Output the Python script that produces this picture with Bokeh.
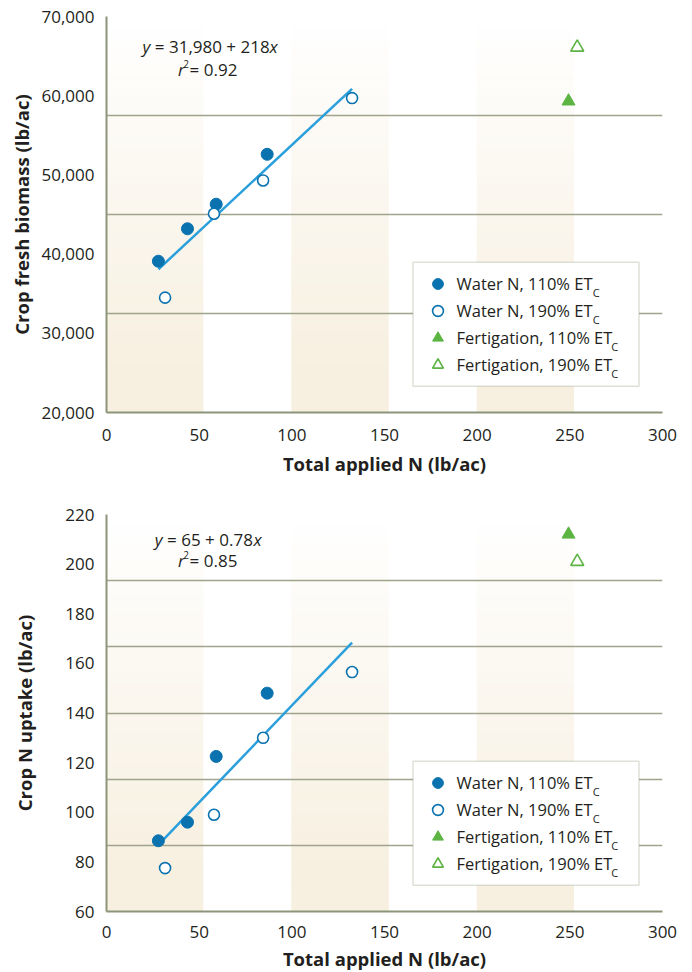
import numpy as np
from bokeh.plotting import figure
from bokeh.models import (Range1d, FixedTicker, Label, Legend, LegendItem,
                          NumeralTickFormatter, BoxAnnotation)
from bokeh.layouts import column
from bokeh.embed import file_html
from bokeh.resources import INLINE

# ---------------- data ----------------
applied_n_water_110 = [28.0, 43.7, 59.2, 86.7]
applied_n_water_190 = [31.6, 58.0, 84.5, 132.5]
applied_n_fert_110 = [249.3]
applied_n_fert_190 = [254.0]

biomass_water_110 = [39100, 43200, 46300, 52600]
biomass_water_190 = [34500, 45100, 49300, 59700]
biomass_fert_110 = [59300]
biomass_fert_190 = [66100]

uptake_water_110 = [88.5, 96.0, 122.5, 148.0]
uptake_water_190 = [77.5, 99.0, 130.0, 156.5]
uptake_fert_110 = [212.0]
uptake_fert_190 = [201.0]

biomass_fit = (31980, 218)
uptake_fit = (65, 0.78)
biomass_eq = ("= 31,980 + 218", "= 0.92")
uptake_eq = ("= 65 + 0.78", "= 0.85")

x_ticks = [0, 50, 100, 150, 200, 250, 300]
biomass_ticks = [20000, 30000, 40000, 50000, 60000, 70000]
uptake_ticks = [60, 80, 100, 120, 140, 160, 180, 200, 220]

legend_labels = ["Water N, 110% ET", "Water N, 190% ET",
                 "Fertigation, 110% ET", "Fertigation, 190% ET"]
legend_sub = "C"
band_starts = [0, 100, 200]
band_width = 52

# ---------------- style ----------------
FONT = "Open Sans"
TEXT = "#231f20"
BLUE = "#0a72ae"
GREEN = "#5cb443"
FIT = "#2a9fdb"
GRID = "#9ea58c"
AXIS = "#8c957a"
BEIGE = (247, 239, 223)


def add_text(p, x, y, text, size, style="normal"):
    p.add_layout(Label(x=x, y=y, x_units="screen", y_units="screen", text=text,
                       text_font=FONT, text_font_size=f"{size}px",
                       text_font_style=style, text_color=TEXT,
                       text_align="left", text_baseline="middle",
                       level="overlay"))


def make_chart(y_range, y_ticks, n_grid, y_w110, y_w190, y_f110, y_f190, fit,
               eq, y_label, frame_h, border_top, border_bottom, eq_pos,
               ylab_standoff, xtick_standoff, xlab_standoff, fmt=None):
    p = figure(frame_width=556, frame_height=frame_h, output_backend="svg",
               toolbar_location=None, x_range=Range1d(0, 300),
               y_range=Range1d(*y_range), min_border_left=106,
               min_border_right=21, min_border_top=border_top,
               min_border_bottom=border_bottom)
    p.outline_line_color = None
    p.background_fill_color = "white"
    p.border_fill_color = "white"

    # gradient bands
    y0, y1 = y_range
    n = 40
    edges = np.linspace(y0, y1, n + 1)
    for b in band_starts:
        lefts, rights, bots, tops, cols = [], [], [], [], []
        for i in range(n):
            f = (i + 0.5) / n
            inten = max(0.0, min(1.0, (1 - f) * 1.08))
            c = tuple(int(round(255 - (255 - ch) * inten)) for ch in BEIGE)
            lefts.append(b); rights.append(b + band_width)
            bots.append(edges[i]); tops.append(edges[i + 1])
            cols.append("#%02x%02x%02x" % c)
        p.quad(left=lefts, right=rights, bottom=bots, top=tops, fill_color=cols,
               line_color=cols, line_width=1, level="image")

    # grid
    grid_vals = list(np.linspace(y0, y1, n_grid + 1)[1:])
    p.xgrid.visible = False
    p.ygrid.ticker = FixedTicker(ticks=grid_vals)
    p.ygrid.grid_line_color = GRID
    p.ygrid.grid_line_width = 1.5

    # axes
    for ax in (p.xaxis[0], p.yaxis[0]):
        ax.axis_line_color = AXIS
        ax.axis_line_width = 2
        ax.major_tick_line_color = None
        ax.minor_tick_line_color = None
        ax.major_tick_out = 0
        ax.major_tick_in = 0
        ax.major_label_text_font = FONT
        ax.major_label_text_font_size = "17px"
        ax.major_label_text_color = TEXT
        ax.axis_label_text_font = FONT
        ax.axis_label_text_font_size = "18.5px"
        ax.axis_label_text_font_style = "bold"
        ax.axis_label_text_color = TEXT
    p.xaxis.ticker = FixedTicker(ticks=x_ticks)
    p.yaxis.ticker = FixedTicker(ticks=y_ticks)
    if fmt is not None:
        p.yaxis.formatter = fmt
    p.xaxis.axis_label = "Total applied N (lb/ac)"
    p.yaxis.axis_label = y_label
    p.yaxis.major_label_standoff = 12
    p.yaxis.axis_label_standoff = ylab_standoff
    p.xaxis.major_label_standoff = xtick_standoff
    p.xaxis.axis_label_standoff = xlab_standoff

    # legend box (drawn under the legend's keys and texts)
    leg_x, leg_y = 306.5, 26.3
    pad, gw, gh, stand, lw = 8, 33, 27, 3, 174
    leg_w = 2 * pad + gw + stand + lw
    leg_h = 2 * pad + 4 * gh
    box = BoxAnnotation(left=leg_x, right=leg_x + leg_w, bottom=leg_y,
                        top=leg_y + leg_h, left_units="screen",
                        right_units="screen", bottom_units="screen",
                        top_units="screen", fill_color="white", fill_alpha=1.0,
                        line_color="#8e9b7d", line_width=1.5, level="underlay")
    p.add_layout(box)

    # regression line
    xs_all = applied_n_water_110 + applied_n_water_190
    fx = np.array([min(xs_all), max(xs_all)])
    p.line(fx, fit[0] + fit[1] * fx, line_color=FIT, line_width=2.5)

    # points
    r1 = p.scatter(applied_n_water_110, y_w110, marker="circle", size=12,
                   fill_color=BLUE, line_color=BLUE, line_width=1)
    r2 = p.scatter(applied_n_water_190, y_w190, marker="circle", size=11,
                   fill_color="white", line_color=BLUE, line_width=1.6)
    r3 = p.scatter(applied_n_fert_110, y_f110, marker="triangle", size=13,
                   fill_color=GREEN, line_color=GREEN, line_width=1)
    r4 = p.scatter(applied_n_fert_190, y_f190, marker="triangle", size=13,
                   fill_color="white", line_color=GREEN, line_width=1.6)

    legend = Legend(items=[LegendItem(label=t, renderers=[r])
                           for t, r in zip(legend_labels, [r1, r2, r3, r4])],
                    location=(leg_x, leg_y))
    legend.label_text_font = FONT
    legend.label_text_font_size = "16.5px"
    legend.label_text_color = TEXT
    legend.border_line_color = "white"
    legend.border_line_alpha = 0.0
    legend.background_fill_alpha = 0.0
    legend.padding = pad
    legend.spacing = 0
    legend.glyph_height = gh
    legend.glyph_width = gw
    legend.label_height = gh
    legend.label_standoff = stand
    legend.label_width = lw
    legend.margin = 0
    p.add_layout(legend)

    # subscripts in legend
    leg_top = leg_y + leg_h
    widths = [135.3, 135.3, 153.8, 153.8]
    for i, w in enumerate(widths):
        cy = leg_top - pad - gh / 2 - gh * i
        add_text(p, leg_x + pad + gw + stand + w + 0.5, cy - 8.5, legend_sub, 11)

    # equation
    yx, xx, ly1, rx, ly2 = eq_pos
    add_text(p, yx, frame_h - ly1, "y", 17, "italic")
    add_text(p, yx + 12.3, frame_h - ly1, eq[0], 17)
    add_text(p, xx, frame_h - ly1, "x", 17, "italic")
    add_text(p, rx, frame_h - ly2, "r", 17, "italic")
    add_text(p, rx + 5.2, frame_h - ly2 + 5.5, "2", 10)
    add_text(p, rx + 11.5, frame_h - ly2, eq[1], 17)
    return p


p1 = make_chart((20000, 70000), biomass_ticks, 4, biomass_water_110,
                biomass_water_190, biomass_fert_110, biomass_fert_190,
                biomass_fit, biomass_eq, "Crop fresh biomass (lb/ac)",
                396, 16, 68, (36, 163, 30.2, 71.6, 52.7), 4, 16, 7,
                NumeralTickFormatter(format="0,0"))
p2 = make_chart((60, 220), uptake_ticks, 6, uptake_water_110, uptake_water_190,
                uptake_fert_110, uptake_fert_190, uptake_fit, uptake_eq,
                "Crop N uptake (lb/ac)", 397, 34, 57,
                (48.3, 147, 24.7, 71.6, 46.3), 25, 14, 5)

layout = column(p1, p2, spacing=0)
open("out.html", "w").write(file_html(layout, INLINE))
